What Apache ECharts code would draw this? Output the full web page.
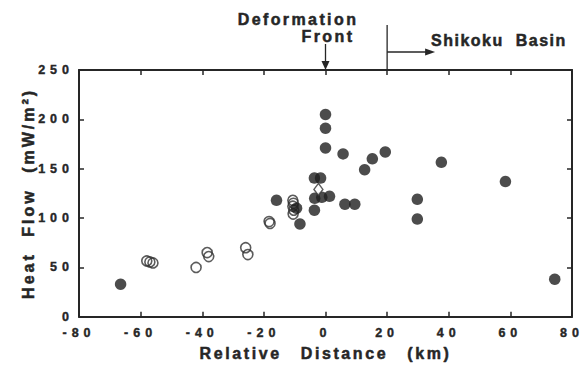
<!DOCTYPE html>
<html><head><meta charset="utf-8">
<script src="https://cdn.jsdelivr.net/npm/echarts@6/dist/echarts.min.js"></script>
<style>html,body{margin:0;padding:0;background:#fff}#chart{width:583px;height:367px}</style>
</head><body><div id="chart"></div>
<script>
// ---- data ----
const xTicks = [-80, -60, -40, -20, 0, 20, 40, 60, 80];
const yTicks = [0, 50, 100, 150, 200, 250];
const filledX = [-66.5, -15.9, -9.4, -8.3, -3.6, -1.6, -3.5, -1.2, 1.3, -3.6, 0, 0, 0, 5.7, 12.7, 15.2, 19.4, 6.3, 9.5, 29.8, 29.8, 37.6, 58.4, 74.4];
const filledY = [33, 118, 110, 94, 140.5, 140.5, 120, 121, 122, 108, 205, 191, 171, 165, 149, 160, 167, 114, 114, 119, 99, 156.5, 137, 38];
const openX = [-58, -57, -56, -42, -38.4, -37.9, -25.9, -25.2, -18.3, -18, -10.6, -10.4, -10.6, -10.3, -10.5];
const openY = [56.5, 55.5, 54.5, 50, 65, 61, 70, 63, 96.5, 94.5, 118, 115, 112, 108, 104];
const diamondX = [-2.3];
const diamondY = [129];
const frontX = 0;      // deformation front
const basinX = 20;     // start of Shikoku Basin
const xTitle = 'Relative Distance (km)';
const yTitle = 'Heat Flow (mW/m\u00B2)';

const zip = (a, b) => a.map((v, i) => [v, b[i]]);
const FONT = 'Liberation Sans';
const INK = '#262626';

const chart = echarts.init(document.getElementById('chart'), null, {renderer: 'svg'});

const axisCommon = {
  type: 'value',
  splitLine: {show: false},
  axisLine: {show: true, onZero: false, lineStyle: {color: INK, width: 2}},
  axisTick: {show: true, inside: true, length: 5, lineStyle: {color: INK, width: 1.5}},
};
const labelStyle = {color: INK, fontFamily: FONT, fontWeight: 'bold', fontSize: 12.5, textBorderColor: INK, textBorderWidth: 0.4};
const nameStyle = {color: INK, fontFamily: FONT, fontWeight: 'bold', fontSize: 16, textBorderColor: INK, textBorderWidth: 0.5};

chart.setOption({
  animation: false,
  backgroundColor: '#fff',
  grid: {left: 79, right: 11, top: 70, bottom: 50, containLabel: false},
  xAxis: [
    Object.assign({}, axisCommon, {
      position: 'bottom', min: xTicks[0], max: xTicks[xTicks.length - 1], interval: 20,
      axisLabel: Object.assign({margin: 10}, labelStyle),
      name: xTitle, nameLocation: 'middle', nameGap: 29,
      nameTextStyle: nameStyle
    }),
    Object.assign({}, axisCommon, {
      position: 'top', min: xTicks[0], max: xTicks[xTicks.length - 1], interval: 20,
      axisLabel: {show: false}
    })
  ],
  yAxis: [
    Object.assign({}, axisCommon, {
      position: 'left', min: yTicks[0], max: yTicks[yTicks.length - 1], interval: 50,
      axisLabel: Object.assign({margin: 5}, labelStyle),
      name: yTitle, nameLocation: 'middle', nameGap: 43, nameRotate: 90,
      nameTextStyle: nameStyle
    }),
    Object.assign({}, axisCommon, {
      position: 'right', min: yTicks[0], max: yTicks[yTicks.length - 1], interval: 50,
      axisLabel: {show: false}
    })
  ],
  series: [
    {type: 'scatter', xAxisIndex: 0, yAxisIndex: 0, data: zip(openX, openY), symbol: 'circle', symbolSize: 10,
     itemStyle: {color: 'rgba(0,0,0,0)', borderColor: '#333', borderWidth: 1.6}, silent: true},
    {type: 'scatter', xAxisIndex: 0, yAxisIndex: 0, data: zip(filledX, filledY), symbol: 'circle', symbolSize: 11.5,
     itemStyle: {color: '#1f1f1f'}, silent: true},
    {type: 'scatter', xAxisIndex: 0, yAxisIndex: 0, data: zip(diamondX, diamondY), symbol: 'diamond', symbolSize: [9, 12],
     itemStyle: {color: '#fff', borderColor: '#333', borderWidth: 1.4}, silent: true}
  ]
});

const p0 = chart.convertToPixel({xAxisIndex: 0}, frontX);
const p20 = chart.convertToPixel({xAxisIndex: 0}, basinX);
const topY = chart.convertToPixel({yAxisIndex: 0}, yTicks[yTicks.length - 1]);
const txt = {fill: INK, fontFamily: FONT, fontWeight: 'bold', fontSize: 16, stroke: INK, lineWidth: 0.5};

chart.setOption({
  graphic: [
    {type: 'line', shape: {x1: p0, y1: 44, x2: p0, y2: topY - 7}, style: {stroke: INK, lineWidth: 1.3}},
    {type: 'polygon', shape: {points: [[p0 - 4, topY - 9], [p0 + 4, topY - 9], [p0, topY]]}, style: {fill: INK}},
    {type: 'line', shape: {x1: p20, y1: 25, x2: p20, y2: topY}, style: {stroke: INK, lineWidth: 1.3}},
    {type: 'line', shape: {x1: p20, y1: 52, x2: p20 + 40, y2: 52}, style: {stroke: INK, lineWidth: 1.3}},
    {type: 'polygon', shape: {points: [[p20 + 38, 48.5], [p20 + 48, 52], [p20 + 38, 55.5]]}, style: {fill: INK}},
    {type: 'text', x: 298, y: 19, style: Object.assign({text: 'Deformation', textAlign: 'center', textVerticalAlign: 'middle'}, txt)},
    {type: 'text', x: 328, y: 36, style: Object.assign({text: 'Front', textAlign: 'center', textVerticalAlign: 'middle'}, txt)},
    {type: 'text', x: 431, y: 40, style: Object.assign({text: 'Shikoku Basin', textAlign: 'left', textVerticalAlign: 'middle'}, txt)}
  ]
});

function spaceText() {
  document.querySelectorAll('#chart text').forEach(t => {
    const s = t.textContent;
    if (/^-?\d+$/.test(s)) { t.style.letterSpacing = '5px'; }
    else if (s.indexOf('Heat') === 0) { t.style.letterSpacing = '3px'; t.style.wordSpacing = '8px'; }
    else if (s.indexOf('Shikoku') === 0) { t.style.letterSpacing = '1.5px'; t.style.wordSpacing = '6px'; }
    else if (s.indexOf('Relative') === 0) { t.style.letterSpacing = '2.6px'; t.style.wordSpacing = '12px'; }
    else { t.style.letterSpacing = '2.4px'; t.style.wordSpacing = '7px'; }
  });
}
spaceText();
chart.on('finished', spaceText);
requestAnimationFrame(spaceText);
</script></body></html>
